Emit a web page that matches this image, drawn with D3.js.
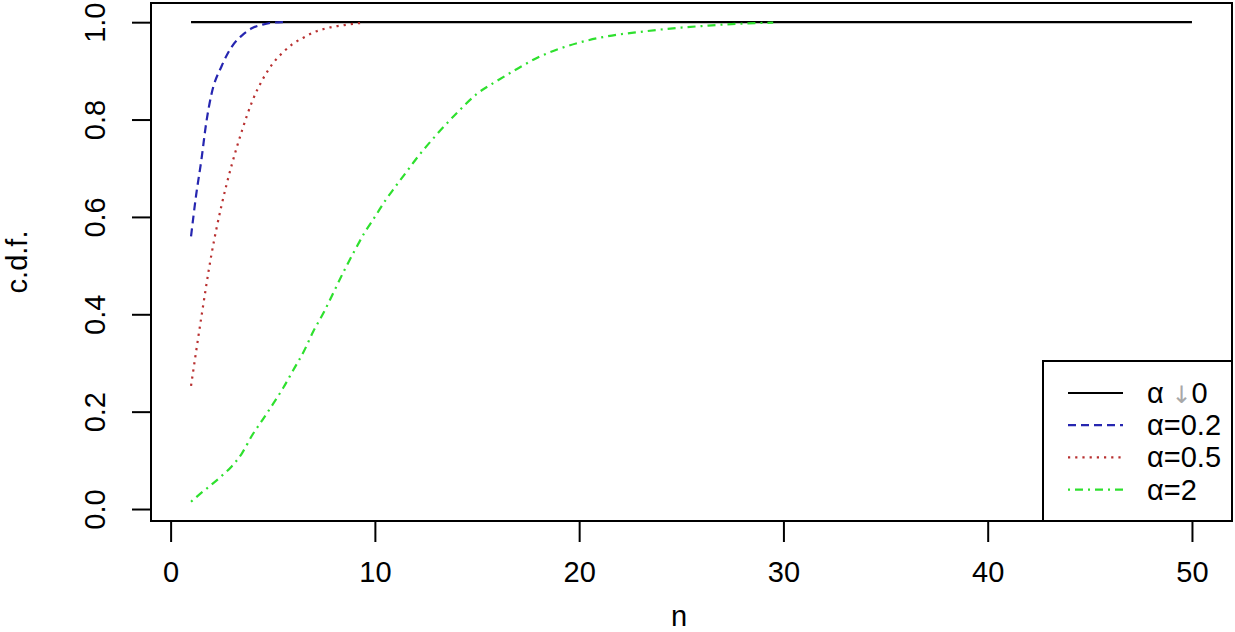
<!DOCTYPE html>
<html>
<head>
<meta charset="utf-8">
<script src="https://cdn.jsdelivr.net/npm/d3@7"></script>
<style>
  body { margin: 0; background: #fff; }
  text { font-family: "Liberation Sans", Arial, sans-serif; fill: #000; }
</style>
</head>
<body>
<script>
const width = 1235;
const height = 632;

// alpha -> 0 : degenerate at 1
const nBlack = [1, 50];
const cdfBlack = [1, 1];

// alpha = 0.2
const nBlue = [1, 1.25, 1.5, 1.75, 2, 2.5, 3, 3.5, 4, 4.5, 5, 5.5];
const cdfBlue = [0.56, 0.645, 0.715, 0.795, 0.852, 0.91, 0.95, 0.973, 0.988, 0.995, 0.999, 1.0];

// alpha = 0.5
const nRed = [1, 1.5, 2, 2.5, 3, 3.5, 4, 4.5, 5, 5.5, 6, 6.5, 7, 7.5, 8, 8.5, 9, 9.5];
const cdfRed = [0.253, 0.393, 0.523, 0.625, 0.708, 0.778, 0.838, 0.882, 0.915, 0.938, 0.956,
    0.968, 0.979, 0.986, 0.991, 0.994, 0.997, 0.999];

// alpha = 2
const nGreen = [1, 1.5, 2, 2.5, 3, 3.5, 4, 4.5, 5, 5.5, 6, 6.5, 7, 7.5, 8, 8.5, 9, 9.5, 10,
    10.5, 11, 11.5, 12, 13, 14, 15, 16, 17, 18, 19, 20, 21, 22, 23, 24, 25, 26, 27, 28, 29.5];
const cdfGreen = [0.015, 0.033, 0.05, 0.068, 0.088, 0.115, 0.152, 0.183, 0.215, 0.248, 0.285,
    0.322, 0.366, 0.404, 0.447, 0.49, 0.53, 0.568, 0.6, 0.633, 0.662, 0.69, 0.718, 0.768,
    0.813, 0.853, 0.88, 0.905, 0.928, 0.945, 0.958, 0.968, 0.975, 0.98, 0.985, 0.989, 0.992,
    0.995, 0.997, 0.999];

const xTicks = [0, 10, 20, 30, 40, 50];
const yTicks = [0, 0.2, 0.4, 0.6, 0.8, 1.0];
const legendLabels = ['α', 'α=0.2', 'α=0.5', 'α=2'];

const series = [
    { n: nBlack, cdf: cdfBlack, color: '#000000', dash: null },
    { n: nBlue, cdf: cdfBlue, color: '#2626b0', dash: '8,5' },
    { n: nRed, cdf: cdfRed, color: '#b83030', dash: '2.2,5' },
    { n: nGreen, cdf: cdfGreen, color: '#2ee02e', dash: '2,5,8,5' }
];

const box = { left: 151, right: 1232, top: 3, bottom: 521 };

const svg = d3.select('body').append('svg')
    .attr('width', width)
    .attr('height', height);

// R style 4% padding around the data range
const xScale = d3.scaleLinear()
    .domain([-0.96, 51.96])
    .range([box.left, box.right]);
const yScale = d3.scaleLinear()
    .domain([-0.0246, 1.0394])
    .range([box.bottom, box.top]);

const line = d3.line()
    .x(d => xScale(d[0]))
    .y(d => yScale(d[1]))
    .curve(d3.curveMonotoneX);

series.forEach(s => {
    svg.append('path')
        .datum(s.n.map((v, i) => [v, s.cdf[i]]))
        .attr('d', line)
        .attr('fill', 'none')
        .attr('stroke', s.color)
        .attr('stroke-width', 2.2)
        .attr('stroke-dasharray', s.dash);
});

// axes
const xAxis = d3.axisBottom(xScale).tickValues(xTicks).tickSize(20).tickPadding(8);
const yAxis = d3.axisLeft(yScale).tickValues(yTicks).tickSize(19).tickFormat(d3.format('.1f'));

const gx = svg.append('g')
    .attr('transform', `translate(0, ${box.bottom + 1})`)
    .call(xAxis);
gx.select('.domain').remove();
gx.selectAll('line').attr('stroke-width', 2);
gx.selectAll('text')
    .attr('font-size', 29)
    .attr('dy', null)
    .attr('y', 60);

const gy = svg.append('g')
    .attr('transform', `translate(${box.left}, 0)`)
    .call(yAxis);
gy.select('.domain').remove();
gy.selectAll('line').attr('stroke-width', 2);
gy.selectAll('text')
    .attr('font-size', 29)
    .attr('text-anchor', 'middle')
    .attr('x', null)
    .attr('dy', null)
    .attr('transform', 'translate(-46, 0) rotate(-90)');

svg.append('rect')
    .attr('x', box.left)
    .attr('y', box.top)
    .attr('width', box.right - box.left)
    .attr('height', box.bottom - box.top)
    .attr('fill', 'none')
    .attr('stroke', '#000')
    .attr('stroke-width', 2);

// axis titles
svg.append('text')
    .attr('x', 679)
    .attr('y', 626)
    .attr('text-anchor', 'middle')
    .attr('font-size', 29)
    .text('n');

svg.append('text')
    .attr('transform', `translate(27, ${(box.top + box.bottom) / 2}) rotate(-90)`)
    .attr('text-anchor', 'middle')
    .attr('font-size', 29)
    .text('c.d.f.');

// legend
const legend = svg.append('g');
legend.append('rect')
    .attr('x', 1043)
    .attr('y', 361)
    .attr('width', box.right - 1043)
    .attr('height', box.bottom - 361)
    .attr('fill', '#fff')
    .attr('stroke', '#000')
    .attr('stroke-width', 2);

series.forEach((s, i) => {
    const y = 393 + i * 32.2;
    legend.append('line')
        .attr('x1', 1068).attr('x2', 1123)
        .attr('y1', y).attr('y2', y)
        .attr('stroke', s.color)
        .attr('stroke-width', 2.2)
        .attr('stroke-dasharray', s.dash);
    const t = legend.append('text')
        .attr('x', 1147)
        .attr('y', y + 10)
        .attr('font-size', 29)
        .text(legendLabels[i]);
    if (i === 0) {
        t.append('tspan').attr('fill', '#a8a8a8').attr('font-family', 'DejaVu Sans').attr('font-size', 24).text(' \u2193');
        t.append('tspan').text('0');
    }
});
</script>
</body>
</html>
